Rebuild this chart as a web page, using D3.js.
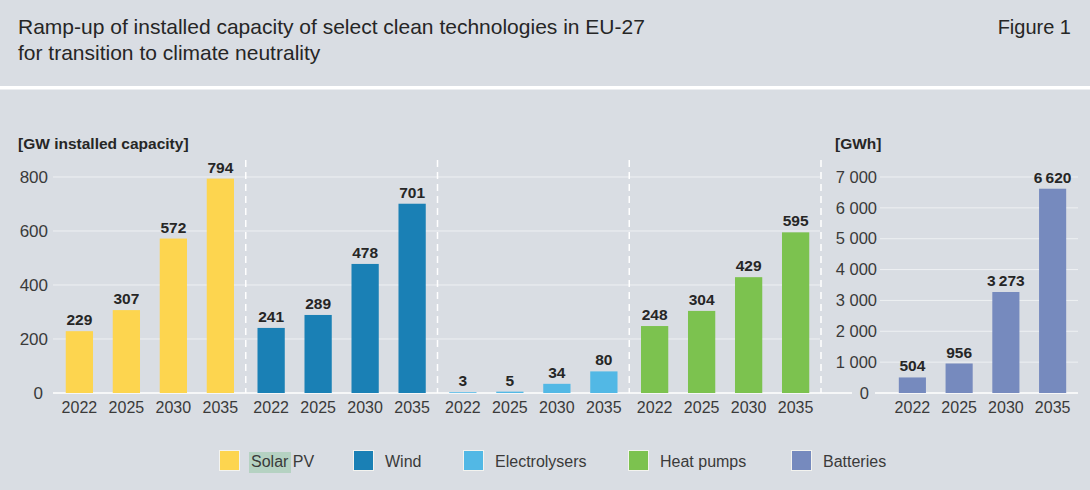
<!DOCTYPE html>
<html>
<head>
<meta charset="utf-8">
<script src="https://cdn.jsdelivr.net/npm/d3@7"></script>
<style>
  html, body { margin: 0; padding: 0; background: #d9dde3; }
  svg { display: block; }
  text { font-family: "Liberation Sans", Arial, sans-serif; }
</style>
</head>
<body>
<svg id="chart" width="1090" height="490"></svg>
<script>
// ---------- data ----------
const years = ["2022", "2025", "2030", "2035"];
const gwGroups = ["Solar PV", "Wind", "Electrolysers", "Heat pumps"];
const solarPV = [229, 307, 572, 794];
const wind = [241, 289, 478, 701];
const electrolysers = [3, 5, 34, 80];
const heatPumps = [248, 304, 429, 595];
const batteries = [504, 956, 3273, 6620];
const gwTicks = [0, 200, 400, 600, 800];
const gwhTicks = [0, 1000, 2000, 3000, 4000, 5000, 6000, 7000];
const legendNames = ["Solar PV", "Wind", "Electrolysers", "Heat pumps", "Batteries"];
const palette = ["#fdd54f", "#1a80b5", "#52b8e5", "#7cc24f", "#768abe"];
const titleLines = ["Ramp-up of installed capacity of select clean technologies in EU-27",
                    "for transition to climate neutrality"];
const figureLabel = "Figure 1";
const gwLabel = "[GW installed capacity]";
const gwhLabel = "[GWh]";

const gwSeries = [solarPV, wind, electrolysers, heatPumps];

// ---------- setup ----------
const svg = d3.select("#chart");
const W = 1090, H = 490;
svg.append("rect").attr("width", W).attr("height", H).attr("fill", "#d9dde3");

const loc = d3.formatLocale({decimal: ".", thousands: "\u2009", grouping: [3], currency: ["", ""]});
const fmtVal = loc.format(",d");
const locTick = d3.formatLocale({decimal: ".", thousands: " ", grouping: [3], currency: ["", ""]});
const fmtTick = locTick.format(",d");

// title
svg.append("g").selectAll("text").data(titleLines).join("text")
  .attr("x", 18).attr("y", (d, i) => 34 + i * 26)
  .attr("font-size", 21).attr("fill", "#262626").text(d => d);
svg.append("text").attr("x", 1071).attr("y", 34).attr("text-anchor", "end")
  .attr("font-size", 20).attr("fill", "#262626").text(figureLabel);

// separator
svg.append("rect").attr("x", 0).attr("y", 86).attr("width", W).attr("height", 3.5).attr("fill", "#ffffff");

// ---------- left chart (GW) ----------
const yTop = 177, yBase = 393;
const yGW = d3.scaleLinear().domain([0, 800]).range([yBase, yTop]);
const x0 = d3.scaleBand().domain(gwGroups).range([54, 821]).paddingInner(0).paddingOuter(0);
const x1 = d3.scaleBand().domain(years).range([0, x0.bandwidth()]).paddingInner(0.42).paddingOuter(0.25);

const gL = svg.append("g");
// gridlines
gL.selectAll("line.grid").data(gwTicks.filter(d => d > 0)).join("line")
  .attr("x1", 53).attr("x2", 820)
  .attr("y1", d => yGW(d)).attr("y2", d => yGW(d))
  .attr("stroke", "#eef0f3").attr("stroke-width", 1);
// baseline
gL.append("line").attr("x1", 53).attr("x2", 852).attr("y1", yBase).attr("y2", yBase)
  .attr("stroke", "#ffffff").attr("stroke-width", 1.5);
// separators (dashed)
const sepX = gwGroups.map(g => x0(g) + x0.bandwidth());
gL.selectAll("line.sep").data(sepX).join("line")
  .attr("x1", d => d).attr("x2", d => d).attr("y1", 160).attr("y2", yBase)
  .attr("stroke", "#ffffff").attr("stroke-width", 1.5).attr("stroke-dasharray", "7,5");

// y axis
const axL = gL.append("g").attr("transform", "translate(48,0)")
  .call(d3.axisLeft(yGW).tickValues(gwTicks).tickSize(0).tickPadding(0).tickFormat(fmtTick));
axL.select(".domain").remove();
axL.selectAll("text").attr("font-size", 17).attr("fill", "#3a3a3a")
  .attr("font-family", "'Liberation Sans', Arial, sans-serif")
  .attr("dx", d => d === 0 ? -5 : 0);
gL.append("text").attr("x", 18).attr("y", 149).attr("font-size", 15.5).attr("font-weight", "bold")
  .attr("fill", "#262626").text(gwLabel);

// bars
gwGroups.forEach((grp, gi) => {
  const vals = gwSeries[gi];
  const g = gL.append("g").attr("transform", `translate(${x0(grp)},0)`);
  g.selectAll("rect").data(vals).join("rect")
    .attr("x", (d, i) => x1(years[i])).attr("width", x1.bandwidth())
    .attr("y", d => yGW(d)).attr("height", d => yBase - yGW(d))
    .attr("fill", palette[gi]);
  g.selectAll("text.v").data(vals).join("text")
    .attr("x", (d, i) => x1(years[i]) + x1.bandwidth() / 2)
    .attr("y", d => yGW(d) - 6).attr("text-anchor", "middle")
    .attr("font-size", 15.5).attr("font-weight", "bold").attr("fill", "#262626")
    .text(d => fmtVal(d));
  const ax = g.append("g").attr("transform", `translate(0,${yBase})`)
    .call(d3.axisBottom(x1).tickSize(0).tickPadding(9));
  ax.select(".domain").remove();
  ax.selectAll("text").attr("font-size", 16).attr("fill", "#3a3a3a")
    .attr("font-family", "'Liberation Sans', Arial, sans-serif");
});

// ---------- right chart (GWh) ----------
const yGWh = d3.scaleLinear().domain([0, 7000]).range([yBase, yTop]);
const xR = d3.scaleBand().domain(years).range([889, 1076]).paddingInner(0.42).paddingOuter(0.21);
const gR = svg.append("g");
gR.selectAll("line.grid").data(gwhTicks.filter(d => d > 0)).join("line")
  .attr("x1", 880).attr("x2", 1078)
  .attr("y1", d => yGWh(d)).attr("y2", d => yGWh(d))
  .attr("stroke", "#eef0f3").attr("stroke-width", 1);
gR.append("line").attr("x1", 875).attr("x2", 1078).attr("y1", yBase).attr("y2", yBase)
  .attr("stroke", "#ffffff").attr("stroke-width", 1.5);
const axR = gR.append("g").attr("transform", "translate(877,0)")
  .call(d3.axisLeft(yGWh).tickValues(gwhTicks).tickSize(0).tickPadding(0).tickFormat(fmtTick));
axR.select(".domain").remove();
axR.selectAll("text").attr("font-size", 16.5).attr("fill", "#3a3a3a")
  .attr("font-family", "'Liberation Sans', Arial, sans-serif")
  .attr("dx", d => d === 0 ? -8 : 0);
gR.append("text").attr("x", 835).attr("y", 149).attr("font-size", 15.5).attr("font-weight", "bold")
  .attr("fill", "#262626").text(gwhLabel);
gR.selectAll("rect").data(batteries).join("rect")
  .attr("x", (d, i) => xR(years[i])).attr("width", xR.bandwidth())
  .attr("y", d => yGWh(d)).attr("height", d => yBase - yGWh(d))
  .attr("fill", palette[4]);
gR.selectAll("text.v").data(batteries).join("text")
  .attr("x", (d, i) => xR(years[i]) + xR.bandwidth() / 2)
  .attr("y", d => yGWh(d) - 6).attr("text-anchor", "middle")
  .attr("font-size", 15.5).attr("font-weight", "bold").attr("fill", "#262626")
  .text(d => fmtVal(d));
const axRB = gR.append("g").attr("transform", `translate(0,${yBase})`)
  .call(d3.axisBottom(xR).tickSize(0).tickPadding(9));
axRB.select(".domain").remove();
axRB.selectAll("text").attr("font-size", 16).attr("fill", "#3a3a3a")
  .attr("font-family", "'Liberation Sans', Arial, sans-serif");

// ---------- legend ----------
const legendX = [219, 353, 463, 628, 791];
const gLeg = svg.append("g");
legendNames.forEach((name, i) => {
  const g = gLeg.append("g").attr("transform", `translate(${legendX[i]},450)`);
  if (i === 0) {
    g.append("rect").attr("x", 30).attr("y", 2).attr("width", 42).attr("height", 21).attr("fill", "#b5d2c2");
  }
  g.append("rect").attr("x", 0.5).attr("y", 0.5).attr("width", 20).attr("height", 20)
    .attr("fill", palette[i]).attr("stroke", "#f3f3ef").attr("stroke-width", 1);
  g.append("text").attr("x", 32).attr("y", 17).attr("font-size", 16).attr("fill", "#3a3a3a").text(name);
});
</script>
</body>
</html>
